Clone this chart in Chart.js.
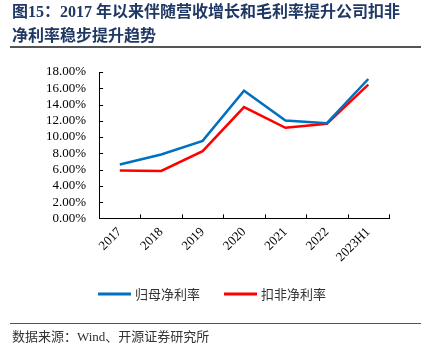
<!DOCTYPE html>
<html><head><meta charset="utf-8">
<script src="https://cdn.jsdelivr.net/npm/chart.js@4/dist/chart.umd.min.js"></script>
<style>
html,body{margin:0;padding:0;background:#fff;}
#wrap{position:relative;width:427px;height:358px;overflow:hidden;}
#c{position:absolute;left:0;top:0;}
.title{position:absolute;left:12px;top:0;font-family:"Liberation Serif","Noto Sans CJK SC",serif;font-weight:bold;font-size:16px;line-height:24px;color:#1f3864;white-space:nowrap;}
.hr1{position:absolute;left:10px;width:411px;top:46px;height:2px;background:#555;}
.hr2{position:absolute;left:10px;width:411px;top:323px;height:1px;background:#555;}
.foot{position:absolute;left:12px;top:328px;font-family:"Liberation Serif","Noto Sans CJK SC",serif;font-size:13px;line-height:18px;color:#333;white-space:nowrap;}
</style></head>
<body><div id="wrap">
<canvas id="c" width="427" height="358"></canvas>
<div class="title">图15：2017 年以来伴随营收增长和毛利率提升公司扣非<br>净利率稳步提升趋势</div>
<div class="hr1"></div>
<div class="hr2"></div>
<div class="foot">数据来源：Wind、开源证券研究所</div>
</div>
<script>
const categories = ["2017","2018","2019","2020","2021","2022","2023H1"];
const netMargin = [6.62, 7.85, 9.53, 15.70, 12.04, 11.71, 17.14];
const deductedNetMargin = [5.88, 5.83, 8.26, 13.69, 11.14, 11.63, 16.44];
const seriesNames = ["归母净利率","扣非净利率"];
const yTicks = [0,2,4,6,8,10,12,14,16,18];

const innerTicks = {
  id:'innerTicks',
  afterDraw(chart){
    const ctx = chart.ctx, a = chart.chartArea;
    const y = chart.scales.y;
    ctx.save();
    ctx.strokeStyle = '#000'; ctx.lineWidth = 1;
    ctx.beginPath();
    yTicks.forEach(v=>{
      const py = Math.round(y.getPixelForValue(v))+0.5;
      ctx.moveTo(a.left, py); ctx.lineTo(a.left+4, py);
    });
    const n = categories.length, w = (a.right-a.left)/n;
    for(let i=0;i<=n;i++){
      const px = Math.round(a.left + i*w)+0.5;
      ctx.moveTo(px, a.bottom); ctx.lineTo(px, a.bottom-4);
    }
    ctx.stroke();
    ctx.restore();
  }
};

const customLegend = {
  id:'customLegend',
  afterDraw(chart){
    const ctx = chart.ctx;
    const starts = [98, 224];
    const ly = 294;
    ctx.save();
    ctx.font = '13px "Noto Sans CJK SC"';
    ctx.textBaseline = 'middle';
    chart.data.datasets.forEach((ds,i)=>{
      const x0 = starts[i];
      ctx.strokeStyle = ds.borderColor; ctx.lineWidth = 3;
      ctx.beginPath(); ctx.moveTo(x0, ly); ctx.lineTo(x0+33, ly); ctx.stroke();
      ctx.fillStyle = '#333';
      ctx.fillText(ds.label, x0+37, ly);
    });
    ctx.restore();
  }
};

new Chart(document.getElementById('c'), {
  type:'line',
  data:{
    labels: categories,
    datasets:[
      {label:seriesNames[0], data:netMargin, borderColor:'#0070C0', backgroundColor:'#0070C0', borderWidth:2.5, pointRadius:0, tension:0},
      {label:seriesNames[1], data:deductedNetMargin, borderColor:'#FF0000', backgroundColor:'#FF0000', borderWidth:2.5, pointRadius:0, tension:0}
    ]
  },
  options:{
    responsive:false, animation:false,
    layout:{padding:{left:33,right:38,top:72,bottom:87}},
    plugins:{
      legend:{display:false},
      tooltip:{enabled:false}
    },
    scales:{
      x:{offset:true, grid:{display:false, drawTicks:false}, border:{display:true,color:'#000',width:1},
         afterFit(s){ s.paddingLeft = 0; s.paddingRight = 0; },
         ticks:{color:'#000', autoSkip:false, maxRotation:45, minRotation:45, padding:6, font:{family:'"Liberation Serif"', size:13}}},
      y:{min:0,max:18, grid:{display:false, drawTicks:false}, border:{display:true,color:'#000',width:1},
         afterBuildTicks(s){ s.ticks = yTicks.map(v=>({value:v})); },
         ticks:{color:'#000', autoSkip:false, padding:13, font:{family:'"Liberation Serif"', size:13}, callback:v=>v.toFixed(2)+'%'}}
    }
  },
  plugins:[innerTicks, customLegend]
});
</script>
</body></html>
